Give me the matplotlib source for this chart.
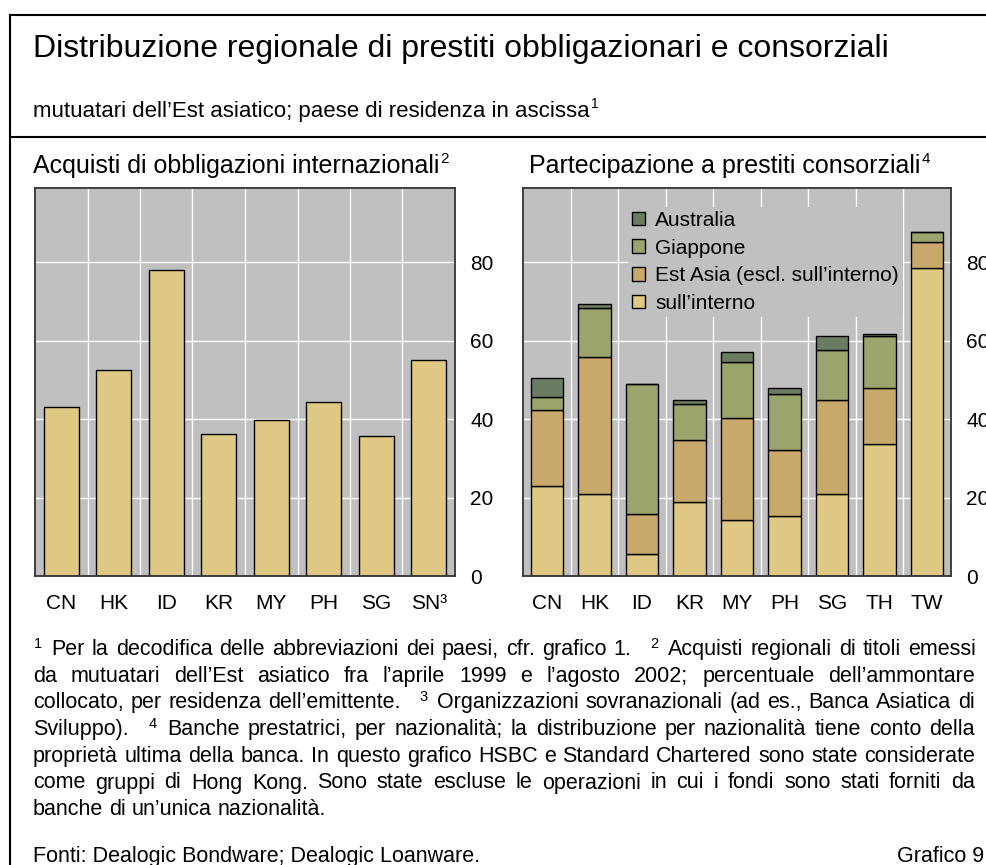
import matplotlib
matplotlib.use("Agg")
import matplotlib.pyplot as plt
from matplotlib.lines import Line2D
from matplotlib.patches import Patch
import numpy as np

plt.rcParams['font.family'] = ['Liberation Sans', 'DejaVu Sans']

# --- data (percent) ---
bond_countries = ["CN", "HK", "ID", "KR", "MY", "PH", "SG", "SN³"]
bond_share = [43.0, 52.5, 78.0, 36.3, 39.7, 44.3, 35.8, 55.0]

loan_countries = ["CN", "HK", "ID", "KR", "MY", "PH", "SG", "TH", "TW"]
domestic = [23.0, 20.9, 5.6, 19.0, 14.3, 15.4, 20.9, 33.7, 78.6]
east_asia = [19.4, 35.1, 10.2, 15.8, 26.0, 16.8, 24.1, 14.3, 6.6]
japan = [3.4, 12.3, 33.1, 9.0, 14.3, 14.3, 12.6, 13.2, 2.6]
australia = [4.7, 1.0, 0.0, 1.2, 2.6, 1.5, 3.7, 0.6, 0.0]

series_names = ["sull’interno", "Est Asia (escl. sull’interno)", "Giappone", "Australia"]
series_colors = ["#dfc883", "#c9a96b", "#9ca46e", "#6b7c63"]

yticks = [0, 20, 40, 60, 80]

# --- figure in pixel terms ---
W, H = 987, 865
fig = plt.figure(figsize=(W / 100, H / 100), dpi=100)
renderer = fig.canvas.get_renderer()


def fx(px):
    return px / W


def fy(py):
    return 1 - py / H


def text_sup(x, y, main, sup, size, sup_size, rise):
    t = fig.text(fx(x), fy(y), main, fontsize=size, va='baseline', ha='left')
    bb = t.get_window_extent(renderer)
    fig.text(bb.x1 / W + 1 / W, fy(y) + rise / H, sup, fontsize=sup_size, va='baseline', ha='left')


def style_axes(ax, n):
    ax.set_facecolor('#c0c0c0')
    ax.set_xlim(-0.5, n - 0.5)
    ax.set_ylim(0, 99)
    ax.set_yticks(yticks)
    ax.yaxis.tick_right()
    ax.set_xticks(np.arange(n))
    ax.set_xticks(np.arange(n - 1) + 0.5, minor=True)
    ax.tick_params(axis='y', length=0, pad=11, labelsize=15)
    ax.tick_params(axis='x', which='major', length=0, pad=13, labelsize=15)
    ax.tick_params(axis='x', which='minor', length=0)
    ax.grid(axis='y', which='major', color='white', lw=1)
    ax.grid(axis='x', which='minor', color='white', lw=1)
    ax.set_axisbelow(True)
    for s in ax.spines.values():
        s.set_color('#333333')
        s.set_linewidth(1.3)


# --- left panel: bond purchases ---
ax1 = fig.add_axes([fx(35), fy(576), (455 - 35) / W, (576 - 188) / H])
style_axes(ax1, len(bond_countries))
x1 = np.arange(len(bond_countries))
ax1.bar(x1, bond_share, width=0.66, color=series_colors[0], edgecolor='black', linewidth=1)
ax1.set_xticklabels(bond_countries)

# --- right panel: syndicated loans ---
ax2 = fig.add_axes([fx(523), fy(576), (951 - 523) / W, (576 - 188) / H])
style_axes(ax2, len(loan_countries))
x2 = np.arange(len(loan_countries))
bottom = np.zeros(len(loan_countries))
for vals, name, col in zip([domestic, east_asia, japan, australia], series_names, series_colors):
    ax2.bar(x2, vals, bottom=bottom, width=0.68, color=col, edgecolor='black', linewidth=1, label=name)
    bottom += np.array(vals)
ax2.set_xticklabels(loan_countries)

handles = [Patch(facecolor=c, edgecolor='black', linewidth=1) for c in series_colors][::-1]
leg = ax2.legend(handles, series_names[::-1], loc='upper left', bbox_to_anchor=(0.245, 0.952),
                 borderaxespad=0, borderpad=0.2, fontsize=15, handlelength=0.62, handleheight=0.62,
                 handletextpad=0.5, labelspacing=0.42, frameon=True, fancybox=False)
leg.get_frame().set_facecolor('#c0c0c0')
leg.get_frame().set_edgecolor('none')
leg.get_frame().set_alpha(1)

# --- frame lines ---
for xs, ys in [([10, 10], [15, 865]), ([10, 987], [15, 15]), ([10, 987], [137, 137])]:
    fig.add_artist(Line2D([fx(v) for v in xs], [fy(v) for v in ys], color='black', lw=1.5,
                          transform=fig.transFigure))

# --- titles ---
fig.text(fx(33), fy(57), "Distribuzione regionale di prestiti obbligazionari e consorziali",
         fontsize=23, va='baseline')
text_sup(33, 117, "mutuatari dell’Est asiatico; paese di residenza in ascissa", "1", 16, 10, 9)
text_sup(33, 173, "Acquisti di obbligazioni internazionali", "2", 18, 11, 10)
text_sup(529, 173, "Partecipazione a prestiti consorziali", "4", 18, 11, 10)

# --- footnotes (justified) ---
notes = [
    "^1 Per la decodifica delle abbreviazioni dei paesi, cfr. grafico 1. ^2 Acquisti regionali di titoli emessi",
    "da mutuatari dell’Est asiatico fra l’aprile 1999 e l’agosto 2002; percentuale dell’ammontare",
    "collocato, per residenza dell’emittente. ^3 Organizzazioni sovranazionali (ad es., Banca Asiatica di",
    "Sviluppo). ^4 Banche prestatrici, per nazionalità; la distribuzione per nazionalità tiene conto della",
    "proprietà ultima della banca. In questo grafico HSBC e Standard Chartered sono state considerate",
    "come gruppi di Hong Kong. Sono state escluse le operazioni in cui i fondi sono stati forniti da",
    "banche di un’unica nazionalità.",
]
x_left, x_right = 33, 975


def layout_line(words, yb, size):
    sp = 0.278 * size * 100 / 72
    arts, widths, gaps = [], [], []
    for j, w in enumerate(words):
        if w.startswith('^'):
            t = fig.text(0, fy(yb) + 7 / H, w[1:], fontsize=size * 0.68, va='baseline')
        else:
            t = fig.text(0, fy(yb), w, fontsize=size, va='baseline')
        arts.append(t)
        widths.append(t.get_window_extent(renderer).width)
        if j > 0:
            if w.startswith('^'):
                gaps.append(3.0 * sp)
            elif words[j - 1].startswith('^'):
                gaps.append(1.3 * sp)
            else:
                gaps.append(sp)
    return arts, widths, gaps


# choose the footnote size so the longest justified line just fits
probe = []
for line in notes[:-1]:
    a, w, g = layout_line(line.split(), 0, 13)
    probe.append(sum(w) + sum(g))
    for t in a:
        t.remove()
note_size = 13 * (x_right - x_left - 6) / max(probe)

for i, line in enumerate(notes):
    yb = 655 + 26.7 * i
    words = line.split()
    arts, widths, gaps = layout_line(words, yb, note_size)
    extra = 0
    if i < len(notes) - 1 and gaps:
        extra = (x_right - x_left - sum(widths) - sum(gaps)) / len(gaps)
    x = x_left + (1 if words[0].startswith('^') else 0)
    for j, t in enumerate(arts):
        t.set_x(fx(x))
        if j < len(gaps):
            x += widths[j] + gaps[j] + extra

fig.text(fx(33), fy(862), "Fonti: Dealogic Bondware; Dealogic Loanware.", fontsize=note_size, va='baseline')
fig.text(fx(984), fy(862), "Grafico 9", fontsize=note_size, va='baseline', ha='right')

fig.savefig("out.png", dpi=100)
